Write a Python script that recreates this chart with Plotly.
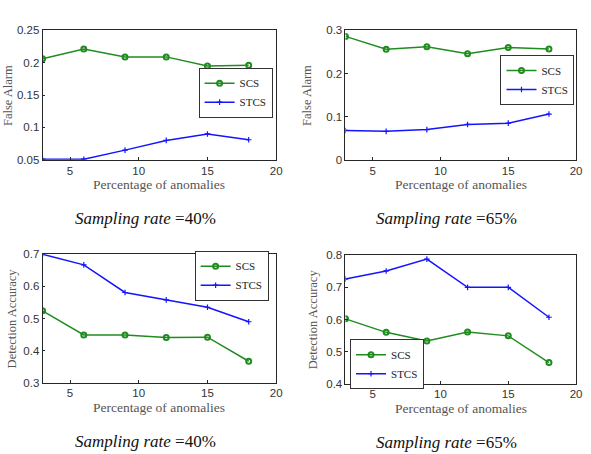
import plotly.graph_objects as go

x_pct = [3, 6, 9, 12, 15, 18]

fa40_scs = [0.206, 0.221, 0.209, 0.209, 0.195, 0.196]
fa40_stcs = [0.051, 0.051, 0.065, 0.080, 0.090, 0.081]

fa65_scs = [0.286, 0.256, 0.262, 0.246, 0.260, 0.257]
fa65_stcs = [0.068, 0.066, 0.070, 0.082, 0.085, 0.106]

da40_scs = [0.524, 0.449, 0.449, 0.441, 0.442, 0.367]
da40_stcs = [0.700, 0.667, 0.581, 0.558, 0.535, 0.490]

da65_scs = [0.602, 0.560, 0.533, 0.561, 0.549, 0.466]
da65_stcs = [0.726, 0.751, 0.788, 0.700, 0.700, 0.607]

series_names = ["SCS", "STCS"]
x_ticks = [5, 10, 15, 20]
y_ticks = [
    [0.05, 0.1, 0.15, 0.2, 0.25],
    [0, 0.1, 0.2, 0.3],
    [0.3, 0.4, 0.5, 0.6, 0.7],
    [0.4, 0.5, 0.6, 0.7, 0.8],
]
y_tick_text = [
    ["0.05", "0.1", "0.15", "0.2", "0.25"],
    ["0", "0.1", "0.2", "0.3"],
    ["0.3", "0.4", "0.5", "0.6", "0.7"],
    ["0.4", "0.5", "0.6", "0.7", "0.8"],
]
y_ranges = [[0.05, 0.25], [0, 0.3], [0.3, 0.7], [0.4, 0.8]]
y_titles = ["False Alarm", "False Alarm", "Detection Accuracy", "Detection Accuracy"]
captions = ["Sampling rate =40%", "Sampling rate =65%", "Sampling rate =40%", "Sampling rate =65%"]

data = [(fa40_scs, fa40_stcs), (fa65_scs, fa65_stcs), (da40_scs, da40_stcs), (da65_scs, da65_stcs)]

W, H = 591, 454
# plot boxes in pixels: (left, right, top, bottom)
boxes = [(43, 279, 25, 158), (349, 582, 25, 158), (43, 279, 255, 387), (349, 582, 256, 388)]
legend_center = [(238, 89), (543, 76), (234, 277), (391, 368)]
ytitle_offset = [35, 39, 31, 32]

GREEN = "#1f8c1f"
BLUE = "#1414ff"
AX = "#262626"
SERIF = "Liberation Serif"
SANS = "Liberation Sans"

fig = go.Figure()
layout = dict(
    width=W, height=H, margin=dict(l=0, r=0, t=0, b=0),
    paper_bgcolor="white", plot_bgcolor="white", showlegend=True,
)
annotations = []
for i, ((scs, stcs), (l, r, t, b)) in enumerate(zip(data, boxes)):
    n = "" if i == 0 else str(i + 1)
    leg = "legend" + n
    fig.add_trace(go.Scatter(
        x=x_pct, y=scs, name=series_names[0], mode="lines+markers",
        line=dict(color=GREEN, width=1.5),
        marker=dict(symbol="circle-open", size=5, color=GREEN, line=dict(width=2, color=GREEN)),
        xaxis="x" + n, yaxis="y" + n, legend=leg,
    ))
    fig.add_trace(go.Scatter(
        x=x_pct, y=stcs, name=series_names[1], mode="lines+markers",
        line=dict(color=BLUE, width=1.5),
        marker=dict(symbol="cross-thin", size=4, color=BLUE, line=dict(width=1.2, color=BLUE)),
        xaxis="x" + n, yaxis="y" + n, legend=leg,
    ))
    common = dict(showgrid=False, zeroline=False, showline=True, mirror=True,
                  linecolor=AX, linewidth=0.8, ticks="inside", ticklen=3,
                  tickcolor=AX, tickfont=dict(family=SANS, size=11.5, color="#333333"))
    layout["xaxis" + n] = dict(domain=[l / W, r / W], range=[3, 20], tickvals=x_ticks,
                               anchor="y" + n, **common)
    layout["yaxis" + n] = dict(domain=[1 - b / H, 1 - t / H], range=y_ranges[i],
                               tickvals=y_ticks[i], ticktext=y_tick_text[i],
                               anchor="x" + n, **common)
    lx, ly = legend_center[i]
    layout[leg] = dict(x=lx / W, y=1 - ly / H, xanchor="center", yanchor="middle",
                       bordercolor="#333333", borderwidth=1, bgcolor="white",
                       font=dict(family=SERIF, size=11, color="#222222"),
                       tracegroupgap=0, itemwidth=30)
    cx = (l + r) / 2
    annotations.append(dict(text="Percentage of anomalies", x=cx / W, y=1 - (b + 25) / H,
                            xref="paper", yref="paper", showarrow=False,
                            font=dict(family=SERIF, size=13.5, color="#555555"),
                            xanchor="center", yanchor="middle"))
    annotations.append(dict(text=y_titles[i], x=(l - ytitle_offset[i]) / W,
                            y=1 - (t + b) / 2 / H,
                            xref="paper", yref="paper", showarrow=False, textangle=-90,
                            font=dict(family=SERIF, size=12.5, color="#555555"),
                            xanchor="center", yanchor="middle"))
    cap = captions[i]
    word, pct = cap.split("=")
    annotations.append(dict(text="<i>" + word + "</i>=" + pct, x=(cx - 14) / W,
                            y=1 - (b + 60) / H, xref="paper", yref="paper", showarrow=False,
                            font=dict(family=SERIF, size=17, color="#111111"),
                            xanchor="center", yanchor="middle"))

layout["annotations"] = annotations
fig.update_layout(**layout)
fig.write_html("out.html")
